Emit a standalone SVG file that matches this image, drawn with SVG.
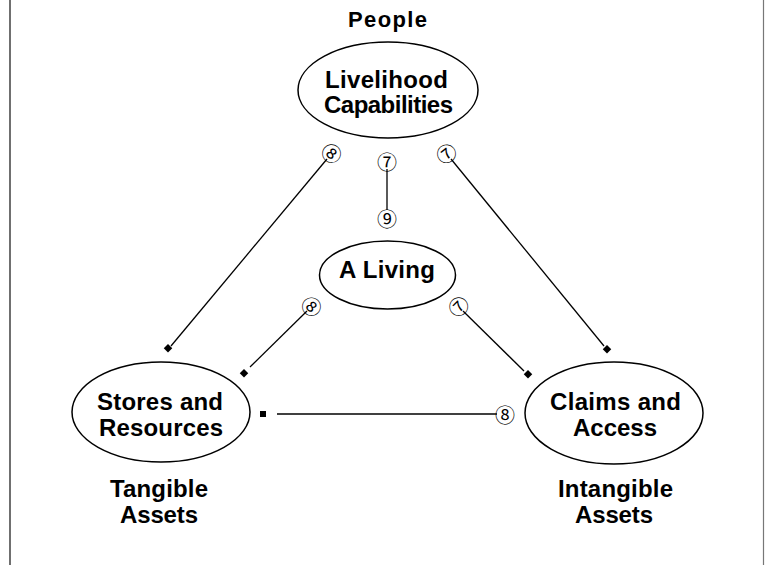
<svg xmlns="http://www.w3.org/2000/svg" width="765" height="565" viewBox="0 0 765 565">
<style>
.node ellipse{fill:#fff;stroke:#000;stroke-width:1.5}
.lbl{font-family:"Liberation Sans",Arial,sans-serif;font-weight:bold;font-size:24px;fill:#000;text-anchor:middle}
.edge line{stroke:#000;stroke-width:1.3}
.cn{font-family:"Noto Sans CJK JP","DejaVu Sans",sans-serif;font-size:20px;fill:#000;text-anchor:middle;dominant-baseline:central}
.dm{fill:#000}
</style>
<rect width="765" height="565" fill="#fff"/>
<line x1="10" y1="0" x2="10" y2="565" stroke="#333" stroke-width="1.4"/>
<line x1="763.5" y1="0" x2="763.5" y2="565" stroke="#777" stroke-width="1.2"/>

<g id="edges" class="edge">
  <line x1="327" y1="159" x2="171" y2="346"/>
  <line x1="387" y1="169" x2="387" y2="210"/>
  <line x1="451" y1="159" x2="604" y2="346"/>
  <line x1="307" y1="311" x2="250" y2="367"/>
  <line x1="463" y1="311" x2="524" y2="371"/>
  <line x1="277" y1="414" x2="497" y2="414"/>
  <rect class="dm" x="164.5" y="345.5" width="6" height="6" transform="rotate(45 168 349)"/>
  <rect class="dm" x="240.5" y="370.5" width="6" height="6" transform="rotate(45 244 374)"/>
  <rect class="dm" x="603.5" y="346.5" width="6" height="6" transform="rotate(45 607 350)"/>
  <rect class="dm" x="524.5" y="371.5" width="6" height="6" transform="rotate(45 528 375)"/>
  <rect class="dm" x="260" y="411" width="6" height="6"/>
  <text class="cn" x="332" y="153" transform="rotate(40 332 153)">⑧</text>
  <text class="cn" x="387" y="161">⑦</text>
  <text class="cn" x="387" y="218">⑨</text>
  <text class="cn" x="446" y="153" transform="rotate(-39 446 153)">⑦</text>
  <text class="cn" x="312" y="306" transform="rotate(45 312 306)">⑧</text>
  <text class="cn" x="458" y="306" transform="rotate(-45 458 306)">⑦</text>
  <text class="cn" x="505" y="414">⑧</text>
</g>

<g id="people-label">
  <text class="lbl" x="387.5" y="27" style="font-size:22px" textLength="79" lengthAdjust="spacing">People</text>
</g>
<g id="livelihood" class="node">
  <ellipse cx="388" cy="90" rx="90" ry="48"/>
  <text class="lbl" x="386.5" y="88" textLength="123" lengthAdjust="spacing">Livelihood</text>
  <text class="lbl" x="388.5" y="113" textLength="129" lengthAdjust="spacing">Capabilities</text>
</g>
<g id="living" class="node">
  <ellipse cx="387.5" cy="275" rx="68" ry="34"/>
  <text class="lbl" x="387" y="278" textLength="96" lengthAdjust="spacing">A Living</text>
</g>
<g id="stores" class="node">
  <ellipse cx="161" cy="412" rx="89" ry="50"/>
  <text class="lbl" x="160" y="410" textLength="126" lengthAdjust="spacing">Stores and</text>
  <text class="lbl" x="161" y="436" textLength="124" lengthAdjust="spacing">Resources</text>
</g>
<g id="claims" class="node">
  <ellipse cx="614" cy="413" rx="89" ry="51"/>
  <text class="lbl" x="615.5" y="410" textLength="131" lengthAdjust="spacing">Claims and</text>
  <text class="lbl" x="615" y="436" textLength="84" lengthAdjust="spacing">Access</text>
</g>
<g id="tangible-label">
  <text class="lbl" x="159" y="497" textLength="98" lengthAdjust="spacing">Tangible</text>
  <text class="lbl" x="159" y="523" textLength="78" lengthAdjust="spacing">Assets</text>
</g>
<g id="intangible-label">
  <text class="lbl" x="615.5" y="497" textLength="115" lengthAdjust="spacing">Intangible</text>
  <text class="lbl" x="614" y="523" textLength="78" lengthAdjust="spacing">Assets</text>
</g>
</svg>
